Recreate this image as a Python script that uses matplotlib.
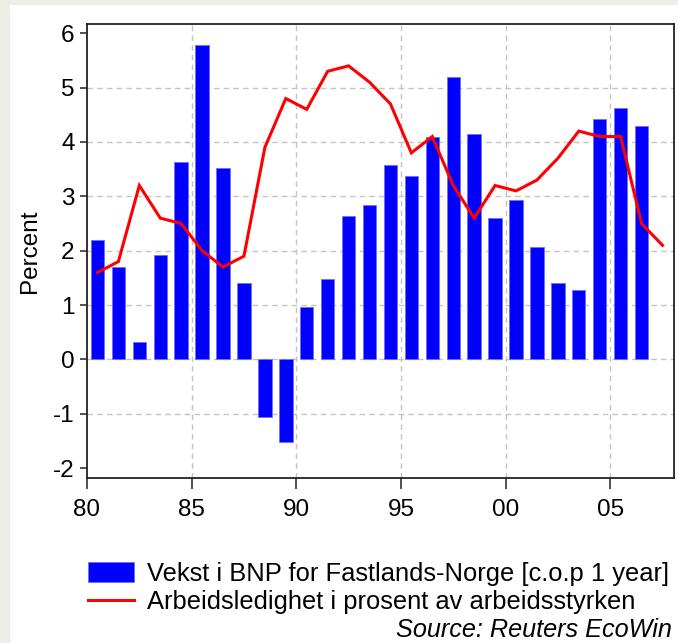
import matplotlib
matplotlib.use('Agg')
from matplotlib import pyplot as plt
from matplotlib.patches import Rectangle
import numpy as np

plt.rcParams['font.family'] = ['Liberation Sans', 'DejaVu Sans']

# data ---------------------------------------------------------------
bnp_years = list(range(1980, 2007))
bnp_vekst = [2.19, 1.70, 0.32, 1.92, 3.63, 5.79, 3.53, 1.41, -1.06, -1.52,
             0.97, 1.48, 2.63, 2.85, 3.58, 3.37, 4.10, 5.19, 4.14, 2.60,
             2.93, 2.06, 1.41, 1.28, 4.42, 4.63, 4.29]
ledig_years = list(range(1980, 2008))
ledighet = [1.6, 1.8, 3.2, 2.6, 2.5, 2.0, 1.7, 1.9, 3.9, 4.8,
            4.6, 5.3, 5.4, 5.1, 4.7, 3.8, 4.1, 3.2, 2.6, 3.2,
            3.1, 3.3, 3.7, 4.2, 4.1, 4.1, 2.5, 2.1]
xtick_pos = [1980, 1985, 1990, 1995, 2000, 2005]
xtick_lab = ['80', '85', '90', '95', '00', '05']
ytick_pos = [-2, -1, 0, 1, 2, 3, 4, 5, 6]
ytick_lab = ['-2', '-1', '0', '1', '2', '3', '4', '5', '6']
lab_bnp = 'Vekst i BNP for Fastlands-Norge [c.o.p 1 year]'
lab_ledig = 'Arbeidsledighet i prosent av arbeidsstyrken'

W, H = 678, 643
fig = plt.figure(figsize=(W / 100, H / 100), dpi=100, facecolor='#eeeee7')
# white panel (beige strip on left/top)
fig.patches.append(Rectangle((10 / W, 0), 1, 1 - 5 / H, transform=fig.transFigure,
                             facecolor='white', edgecolor='none', zorder=-5))

ax = fig.add_axes([87 / W, 1 - 478 / H, (674 - 87) / W, (478 - 24) / H])
ax.set_facecolor('white')

xb = np.array(bnp_years) + 0.5
xl = np.array(ledig_years) + 0.5
bars = ax.bar(xb, bnp_vekst, width=0.64, color='#0000ff', edgecolor='#7070ff',
              linewidth=0.6, zorder=3, label=lab_bnp)
line, = ax.plot(xl, ledighet, color='#ff0000', lw=2.2, zorder=4,
                solid_joinstyle='miter', label=lab_ledig)

ax.set_xlim(1980, 2008.05)
ax.set_ylim(-2.18, 6.17)
ax.set_xticks(xtick_pos)
ax.set_xticklabels(xtick_lab)
ax.set_yticks(ytick_pos)
ax.set_yticklabels(ytick_lab)
ax.tick_params(axis='x', direction='out', length=8, width=1.1, pad=7,
               labelsize=17.5, color='#222222')
ax.tick_params(axis='y', direction='out', length=5, width=1.1, pad=4,
               labelsize=17.5, color='#222222')

ax.grid(True, color='#c4c4c4', linestyle=(0, (4, 3)), linewidth=1.0, zorder=1)
ax.set_axisbelow(True)
gl = ax.yaxis.get_gridlines()
gl[0].set_visible(False)
gl[-1].set_visible(False)
ax.xaxis.get_gridlines()[0].set_visible(False)

for s in ax.spines.values():
    s.set_linewidth(1.3)
    s.set_color('#222222')

ax.set_ylabel('Percent', fontsize=17.5)
ax.yaxis.set_label_coords(-(87 - 41) / (674 - 87), 0.5)

leg = fig.legend(handles=[bars, line], labels=[lab_bnp, lab_ledig],
                 loc='upper left', bbox_to_anchor=(88 / W, 1 - 562 / H),
                 frameon=False, fontsize=18.4, handlelength=1.8, handleheight=0.78,
                 handletextpad=0.5, labelspacing=0.15, borderaxespad=0, borderpad=0)

fig.text(672 / W, 1 - 637 / H, 'Source: Reuters EcoWin', fontsize=18.2,
         style='italic', ha='right', va='baseline')

fig.savefig('out.png', dpi=100, facecolor=fig.get_facecolor())
